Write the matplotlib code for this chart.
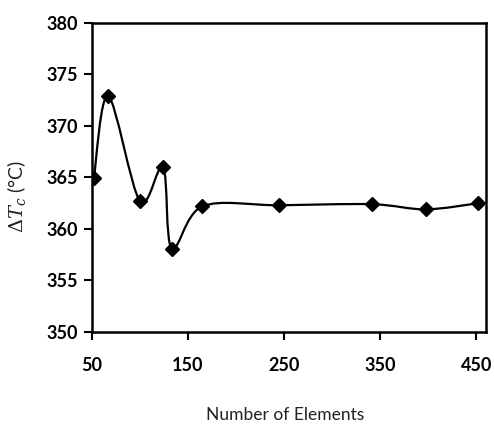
import numpy as np
import matplotlib.pyplot as plt
from matplotlib.path import Path
from matplotlib.patches import PathPatch

n_elements = [52, 67, 100, 124, 133, 165, 245, 341, 397, 452]
delta_tc = [364.9, 372.9, 362.7, 366.0, 358.1, 362.2, 362.3, 362.4, 361.9, 362.5]
xticks = [50, 150, 250, 350, 450]
yticks = [350, 355, 360, 365, 370, 375, 380]

xlim = (50, 460)
ylim = (350, 380)


def smooth_path(x, y):
    # bezier smoothing (catmull-rom style) in normalised axes space
    xs = (np.asarray(x, float) - xlim[0]) / (xlim[1] - xlim[0])
    ys = (np.asarray(y, float) - ylim[0]) / (ylim[1] - ylim[0]) * 0.78
    pts = np.column_stack([xs, ys])
    n = len(pts)
    verts = [pts[0]]
    codes = [Path.MOVETO]
    for i in range(n - 1):
        p0 = pts[i - 1] if i > 0 else pts[i]
        p1 = pts[i]
        p2 = pts[i + 1]
        p3 = pts[i + 2] if i + 2 < n else pts[i + 1]
        c1 = p1 + (p2 - p0) / 6.0
        c2 = p2 - (p3 - p1) / 6.0
        verts += [c1, c2, p2]
        codes += [Path.CURVE4] * 3
    verts = np.array(verts)
    verts[:, 0] = verts[:, 0] * (xlim[1] - xlim[0]) + xlim[0]
    verts[:, 1] = verts[:, 1] / 0.78 * (ylim[1] - ylim[0]) + ylim[0]
    return Path(verts, codes)


plt.rcParams['font.family'] = ['Lato', 'DejaVu Sans']
plt.rcParams['mathtext.fontset'] = 'dejavuserif'

fig = plt.figure(figsize=(4.94, 4.25), dpi=100)
ax = fig.add_axes([0.186, 0.219, 0.798, 0.727])

ax.add_patch(PathPatch(smooth_path(n_elements, delta_tc), fill=False,
                       lw=1.6, color='black', zorder=2))
ax.plot(n_elements, delta_tc, ls='none', marker='D', ms=7, color='black', zorder=3)

ax.set_xlim(*xlim)
ax.set_ylim(*ylim)
ax.set_xticks(xticks)
ax.set_yticks(yticks)
for lbl in ax.get_xticklabels() + ax.get_yticklabels():
    lbl.set_fontweight('bold')
    lbl.set_fontsize(13)
ax.tick_params(direction='out', length=6, width=1.5, pad=4)
ax.tick_params(axis='x', pad=12)
for s in ax.spines.values():
    s.set_linewidth(1.8)

ax.set_xlabel('Number of Elements', fontsize=12.5, color='#222222')
ax.xaxis.set_label_coords(0.49, -0.243)
ax.set_ylabel(r'$\Delta T_c$ (°C)', fontsize=14, color='#222222')
ax.yaxis.set_label_coords(-0.162, 0.437)

fig.savefig('out.png', dpi=100)
